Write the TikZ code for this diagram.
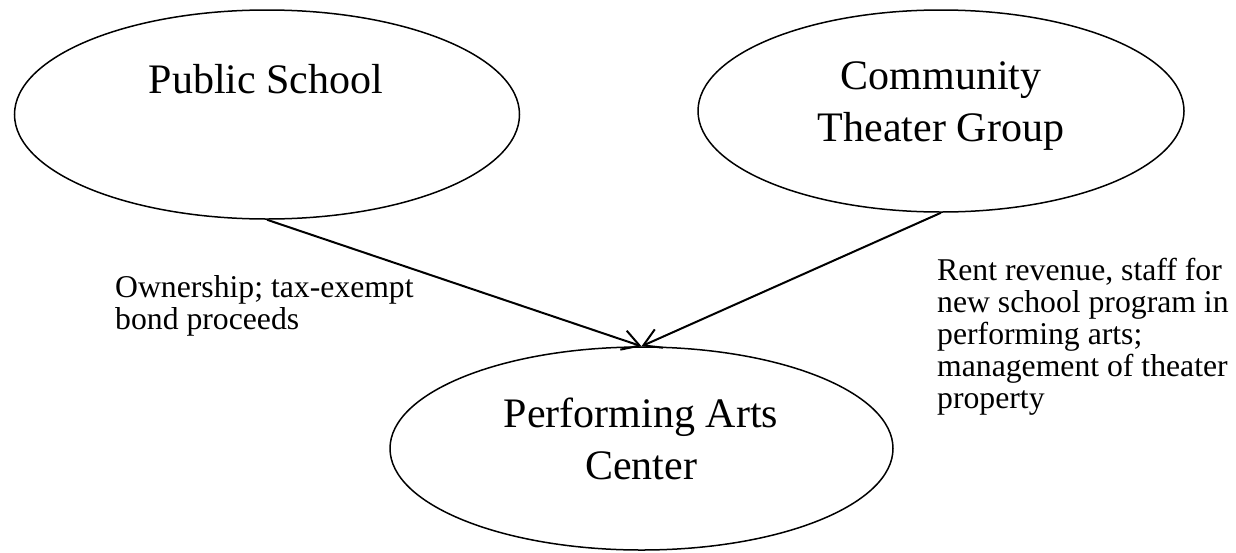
\documentclass[tikz,border=0pt]{standalone}
\usepackage{fontspec}
\setmainfont{Liberation Serif}
\usetikzlibrary{shapes.geometric,arrows.meta}
\begin{document}
\begin{tikzpicture}[x=1pt,y=-1pt,
  party/.style={ellipse,draw,line width=1.5pt,inner sep=0pt},
  bigtext/.style={align=center,inner sep=0pt,font=\fontsize{42}{51.5}\selectfont},
  flowtext/.style={align=left,inner sep=0pt,anchor=north west,font=\fontsize{31.7}{32}\selectfont},
  flow/.style={line width=2pt,-{Straight Barb[length=17pt,width=20pt,line width=2pt]}}]
\useasboundingbox (0,0) rectangle (1236,552);

% the three parties
\node[party,minimum width=505pt,minimum height=209pt] (school) at (267,114.5) {};
\node[party,minimum width=486pt,minimum height=202pt] (theater) at (941,111) {};
\node[party,minimum width=503pt,minimum height=203pt] (center) at (641.5,448.5) {};

\node[bigtext] (schooltext) at (266,79) {Public School};
\node[bigtext] (theatertext) at (941,106.3) {Community\\Theater Group};
\node[bigtext] (centertext) at (641,438.7) {Performing Arts\\Center};

% contributions to the center
\draw[flow] (school.south) -- (center.north);
\draw[flow] (theater.south) -- (center.north);

\node[flowtext] (schoolflow) at (115,275.3) {Ownership; tax-exempt\\bond proceeds};
\node[flowtext] (theaterflow) at (937,258.3) {Rent revenue, staff for\\new school program in\\performing arts;\\management of theater\\property};
\end{tikzpicture}
\end{document}
